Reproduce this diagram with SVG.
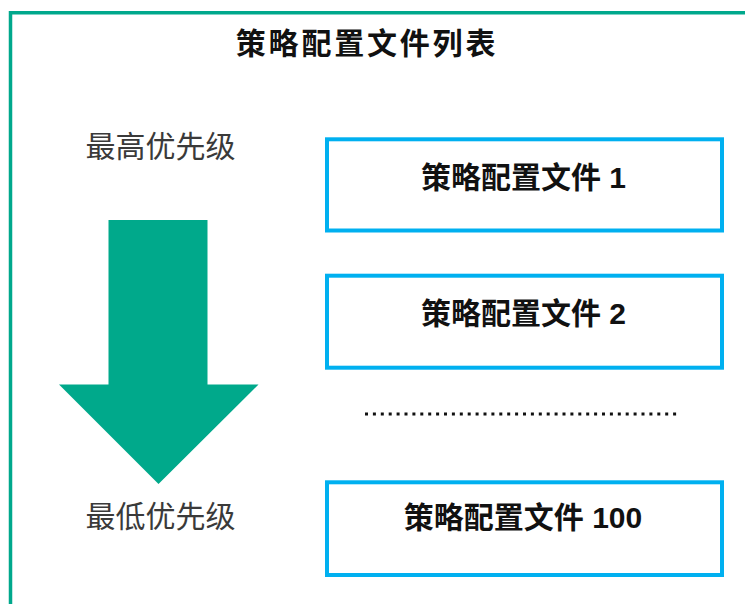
<svg xmlns="http://www.w3.org/2000/svg" width="745" height="604" viewBox="0 0 745 604">
  <style>
    .frame { fill: none; stroke: #00A88C; stroke-width: 3.5; }
    .box { fill: #ffffff; stroke: #00B0F0; stroke-width: 4; }
    .title { font-family: "Liberation Sans", "Noto Sans CJK SC", sans-serif; font-size: 30px; font-weight: bold; fill: #111111; text-anchor: middle; letter-spacing: 2.8px; }
    .lbl { font-family: "Liberation Sans", "Noto Sans CJK SC", sans-serif; font-size: 30px; font-weight: bold; fill: #111111; text-anchor: middle; }
    .side { font-family: "Liberation Sans", "Noto Sans CJK SC", sans-serif; font-size: 30px; font-weight: normal; fill: #3a3a3a; text-anchor: middle; }
    .dots { fill: none; stroke: #111111; stroke-width: 3; stroke-dasharray: 3 4.9; }
  </style>
  <rect width="745" height="604" fill="#ffffff"/>
  <g id="frame">
    <path class="frame" d="M10.5,604 L10.5,12.7 L745,12.7"/>
  </g>
  <g id="title">
    <text class="title" x="367" y="54">策略配置文件列表</text>
  </g>
  <g id="priority-high">
    <text class="side" x="160.5" y="157">最高优先级</text>
  </g>
  <g id="priority-arrow">
    <polygon points="108.5,220 207.5,220 207.5,384.5 258.5,384.5 158.5,484 59,384.5 108.5,384.5" fill="#00A98B"/>
  </g>
  <g id="priority-low">
    <text class="side" x="160.5" y="527">最低优先级</text>
  </g>
  <g id="profile-1">
    <rect class="box" x="327" y="139.3" width="395" height="91.2"/>
    <text class="lbl" x="523.5" y="187.5">策略配置文件 1</text>
  </g>
  <g id="profile-2">
    <rect class="box" x="327" y="275.7" width="395" height="92"/>
    <text class="lbl" x="523.5" y="324">策略配置文件 2</text>
  </g>
  <g id="connectors">
    <line class="dots" x1="365" y1="414" x2="681" y2="414"/>
  </g>
  <g id="profile-100">
    <rect class="box" x="327" y="482.3" width="395" height="92.7"/>
    <text class="lbl" x="523" y="528">策略配置文件 100</text>
  </g>
</svg>
